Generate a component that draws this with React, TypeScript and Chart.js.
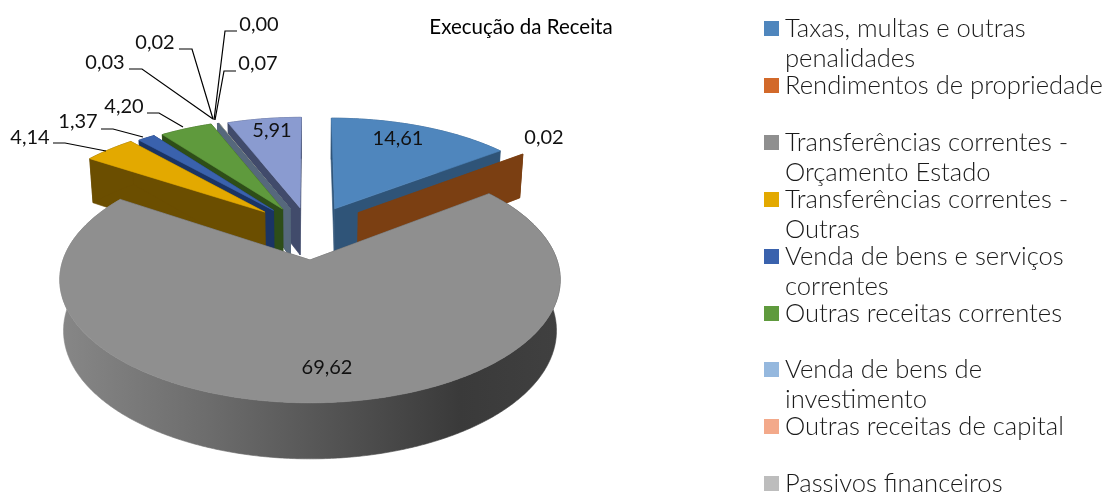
import React, { useEffect, useRef } from "react";
import { Chart, registerables } from "chart.js";

Chart.register(...registerables);

const chartTitle = "Execução da Receita";
const categories = [
  "Taxas, multas e outras penalidades",
  "Rendimentos de propriedade",
  "Transferências correntes - Orçamento Estado",
  "Transferências correntes - Outras",
  "Venda de bens e serviços correntes",
  "Outras receitas correntes",
  "Venda de bens de investimento",
  "Outras receitas de capital",
  "Passivos financeiros",
  "",
  "",
];
const shares = [14.61, 0.02, 69.62, 4.14, 1.37, 4.2, 0.03, 0.02, 0.0, 0.07, 5.91];
const topColors = ["#4f86bd", "#d2692a", "#8f8f8f", "#e3a900", "#3a62ad", "#5f9a3d", "#95b8de", "#f3a98a", "#bdbdbd", "#a9a594", "#8a9bd0"];
const wallColors = ["#2f5478", "#7b3f12", "#555555", "#6b4e00", "#1a3464", "#2e4e18", "#56687c", "#56687c", "#56687c", "#56687c", "#414b6b"];
const legendLines = [
  ["Taxas, multas e outras", "penalidades"],
  ["Rendimentos de propriedade"],
  ["Transferências correntes -", "Orçamento Estado"],
  ["Transferências correntes -", "Outras"],
  ["Venda de bens e serviços", "correntes"],
  ["Outras receitas correntes"],
  ["Venda de bens de", "investimento"],
  ["Outras receitas de capital"],
  ["Passivos financeiros"],
];
const exploded = [1, 1, 0, 1, 1, 1, 1, 1, 1, 1, 1];

// layout of the value labels and their leader lines
const labelSpots = [
  [398, 139], [544, 138], [327, 368], [30, 138], [78, 122], [124, 107],
  [105, 63], [155, 43], [259, 25], [258, 64], [272, 131],
];
const leaders: (number[][] | null)[] = [
  null, null, null,
  [[53, 143], [65, 143], [106, 151]],
  [[101, 129], [113, 129], [143, 137]],
  [[147, 113], [159, 113], [183, 127]],
  [[129, 69], [142, 69], [213, 119]],
  [[179, 49], [192, 49], [213, 119]],
  [[237, 31], [225, 31], [214, 120]],
  [[236, 71], [224, 71], [215, 120]],
  null,
];

// perspective model of the pie plane
const CX = 310, CY = 260, RX = 247, RY = 120, K = 0.16, EXPLODE = 0.47;

function project(x: number, y: number, low: boolean): [number, number] {
  const w = 1 + K * y;
  const sx = (RX * x) / w;
  const sy = CY - (RY * y) / w;
  if (!low) return [CX + sx, sy];
  return [CX + sx * 0.985, sy + 50 - 6 * y];
}

const pie3d = {
  id: "pie3d",
  beforeDatasetsDraw(chart: any) {
    const ctx: CanvasRenderingContext2D = chart.ctx;
    const arcs = chart.getDatasetMeta(0).data;
    const slices = arcs.map((arc: any, i: number) => {
      const p = arc.getProps(["startAngle", "endAngle"], true);
      const a0 = p.startAngle + Math.PI / 2;
      const a1 = p.endAngle + Math.PI / 2;
      let mid = (a0 + a1) / 2;
      if (mid > Math.PI) mid -= 2 * Math.PI;
      const e = exploded[i] * EXPLODE;
      return { i, a0, a1, ox: e * Math.sin(mid / 2), oy: e * Math.cos(mid / 2) };
    });
    const order = [...slices].sort((s: any, t: any) => t.oy - s.oy || t.i - s.i);
    const poly = (pts: number[][], fill: any, edge: number) => {
      ctx.beginPath();
      pts.forEach((q, n) => (n ? ctx.lineTo(q[0], q[1]) : ctx.moveTo(q[0], q[1])));
      ctx.closePath();
      ctx.fillStyle = fill;
      ctx.fill();
      if (edge > 0) {
        ctx.strokeStyle = fill;
        ctx.lineWidth = edge;
        ctx.stroke();
      }
    };
    for (const s of order as any[]) {
      const steps = Math.max(1, Math.ceil((s.a1 - s.a0) / 0.01));
      const rimUnit: number[][] = [];
      for (let n = 0; n <= steps; n++) {
        const t = s.a0 + ((s.a1 - s.a0) * n) / steps;
        rimUnit.push([s.ox + Math.sin(t), s.oy + Math.cos(t)]);
      }
      const wall = wallColors[s.i];
      const radial = (u: number[]) => [
        project(s.ox, s.oy, false),
        project(u[0], u[1], false),
        project(u[0], u[1], true),
        project(s.ox, s.oy, true),
      ];
      poly(radial(rimUnit[0]), wall, 0.6);
      poly(radial(rimUnit[rimUnit.length - 1]), wall, 0.6);
      let rimFill: any = wall;
      if (s.i === 2) {
        const g = ctx.createLinearGradient(60, 0, 560, 0);
        g.addColorStop(0, "#878787");
        g.addColorStop(0.3, "#6c6c6c");
        g.addColorStop(0.6, "#4e4e4e");
        g.addColorStop(0.8, "#3a3a3a");
        g.addColorStop(1, "#404040");
        rimFill = g;
      }
      const rim = [
        ...rimUnit.map((u) => project(u[0], u[1], false)),
        ...[...rimUnit].reverse().map((u) => project(u[0], u[1], true)),
      ];
      poly(rim, rimFill, 0.6);
      const thin = s.a1 - s.a0 < 0.002;
      if (!thin) poly([project(s.ox, s.oy, false), ...rimUnit.map((u) => project(u[0], u[1], false))], topColors[s.i], 0.6);
    }
    return false;
  },
  afterDraw(chart: any) {
    const ctx: CanvasRenderingContext2D = chart.ctx;
    ctx.save();
    // leader lines
    ctx.strokeStyle = "#000";
    ctx.lineWidth = 1.2;
    leaders.forEach((l) => {
      if (!l) return;
      ctx.beginPath();
      l.forEach((q, n) => (n ? ctx.lineTo(q[0], q[1]) : ctx.moveTo(q[0], q[1])));
      ctx.stroke();
    });
    // value labels
    ctx.font = "20px Lato";
    ctx.fillStyle = "#111";
    ctx.textAlign = "center";
    ctx.textBaseline = "middle";
    shares.forEach((v, i) => {
      ctx.fillText(v.toFixed(2).replace(".", ","), labelSpots[i][0], labelSpots[i][1]);
    });
    // title
    ctx.font = "20.5px Lato";
    ctx.fillStyle = "#000";
    ctx.fillText(chartTitle, 521, 27);
    // legend
    ctx.textAlign = "left";
    ctx.textBaseline = "alphabetic";
    ctx.font = "300 25.6px Lato";
    legendLines.forEach((lines, i) => {
      const top = 21 + i * 56.9;
      ctx.fillStyle = topColors[i];
      ctx.fillRect(764, Math.round(top), 15, 15);
      ctx.fillStyle = "#1a1a1a";
      lines.forEach((line, n) => ctx.fillText(line, 785, Math.round(top) + 16 + n * 30));
    });
    ctx.restore();
  },
};

export default function App() {
  const ref = useRef<HTMLCanvasElement>(null);
  useEffect(() => {
    const chart = new Chart(ref.current as HTMLCanvasElement, {
      type: "pie",
      data: {
        labels: categories,
        datasets: [{ data: shares, backgroundColor: topColors, borderWidth: 0 }],
      },
      options: {
        responsive: false,
        animation: false,
        plugins: { legend: { display: false }, tooltip: { enabled: false } },
      },
      plugins: [pie3d],
    } as any);
    return () => chart.destroy();
  }, []);
  return (
    <div style={{ position: "fixed", left: 0, top: 0, width: 1108, height: 493, background: "#fff" }}>
      <canvas ref={ref} width={1108} height={493} style={{ display: "block" }} />
    </div>
  );
}
